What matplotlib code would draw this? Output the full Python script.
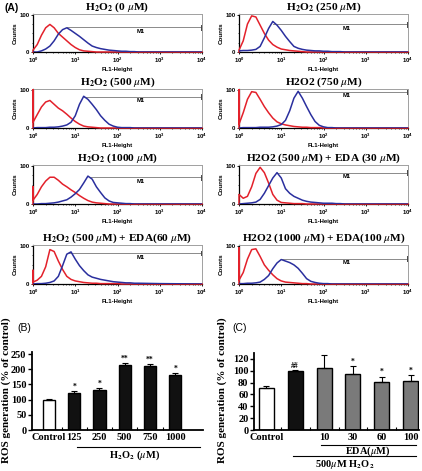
import matplotlib.pyplot as plt
import numpy as np

plt.rcParams['mathtext.fontset'] = 'stix'
plt.rcParams['font.family'] = ['Liberation Serif', 'DejaVu Serif']

W, H = 422, 471

# ---- (A) flow cytometry histograms ----
# FL1 channel positions in log10 units
fl1_log = [0.0, 0.1, 0.2, 0.3, 0.4, 0.5, 0.6, 0.7, 0.8, 0.9, 1.0, 1.1, 1.2, 1.3,
           1.4, 1.5, 1.6, 1.7, 1.8, 1.9, 2.0, 2.1, 2.2, 2.3, 2.4, 2.5, 3.0, 4.0]

hist_titles = [
    r'H$_\mathbf{2}$O$_\mathbf{2}$ (0 $\mu$M)',
    r'H$_\mathbf{2}$O$_\mathbf{2}$ (250 $\mu$M)',
    r'H$_\mathbf{2}$O$_\mathbf{2}$ (500 $\mu$M)',
    r'H2O2 (750 $\mu$M)',
    r'H$_\mathbf{2}$O$_\mathbf{2}$ (1000 $\mu$M)',
    r'H2O2 (500 $\mu$M) + EDA (30 $\mu$M)',
    r'H$_\mathbf{2}$O$_\mathbf{2}$ (500 $\mu$M) + EDA(60 $\mu$M)',
    r'H2O2 (1000 $\mu$M) + EDA(100 $\mu$M)',
]

# counts piled up in the first channel (red, unstained)
red_first = [0, 0, 100, 100, 45, 25, 36, 95]

red_0 = [5, 20, 45, 65, 74, 65, 50, 40, 30, 20, 12, 6, 3, 2, 1, 0, 0, 0, 0, 0, 0, 0, 0, 0, 0, 0, 0, 0]
red_1 = [5, 30, 75, 97, 94, 72, 50, 32, 20, 13, 8, 6, 4, 3, 2, 1, 0, 0, 0, 0, 0, 0, 0, 0, 0, 0, 0, 0]
red_2 = [15, 35, 55, 68, 72, 62, 52, 45, 36, 26, 17, 10, 5, 3, 2, 1, 0, 0, 0, 0, 0, 0, 0, 0, 0, 0, 0, 0]
red_3 = [10, 40, 75, 95, 93, 75, 56, 40, 26, 16, 11, 8, 6, 4, 3, 2, 2, 1, 1, 1, 0, 0, 0, 0, 0, 0, 0, 0]
red_4 = [10, 25, 45, 60, 70, 70, 62, 52, 45, 37, 30, 22, 15, 9, 5, 3, 2, 1, 0, 0, 0, 0, 0, 0, 0, 0, 0, 0]
red_5 = [25, 15, 20, 45, 80, 96, 82, 55, 25, 10, 4, 3, 2, 1, 1, 1, 0, 0, 0, 0, 0, 0, 0, 0, 0, 0, 0, 0]
red_6 = [5, 10, 20, 45, 90, 85, 60, 38, 20, 12, 8, 6, 4, 3, 2, 2, 1, 1, 1, 1, 1, 0, 0, 0, 0, 0, 0, 0]
red_7 = [10, 30, 65, 90, 92, 72, 50, 36, 24, 14, 8, 5, 4, 3, 2, 1, 1, 0, 0, 0, 0, 0, 0, 0, 0, 0, 0, 0]

blue_0 = [0, 0, 3, 8, 16, 30, 48, 60, 65, 58, 50, 42, 33, 24, 16, 12, 9, 7, 5, 4, 3, 2, 2, 1, 1, 0, 0, 0]
blue_1 = [3, 4, 4, 5, 7, 15, 38, 63, 82, 72, 58, 42, 28, 15, 10, 7, 5, 4, 3, 3, 2, 2, 1, 1, 1, 0, 0, 0]
blue_2 = [0, 1, 1, 1, 2, 2, 3, 5, 8, 15, 32, 62, 83, 75, 62, 48, 32, 20, 10, 5, 2, 1, 1, 1, 0, 0, 0, 0]
blue_3 = [0, 1, 1, 1, 1, 2, 2, 2, 3, 5, 9, 20, 45, 78, 96, 78, 56, 35, 17, 7, 3, 1, 1, 0, 0, 0, 0, 0]
blue_4 = [0, 0, 1, 1, 2, 3, 5, 8, 11, 18, 27, 38, 55, 73, 65, 45, 30, 16, 8, 4, 3, 2, 1, 1, 0, 0, 0, 0]
blue_5 = [0, 1, 2, 3, 5, 12, 28, 48, 68, 82, 68, 40, 28, 20, 15, 10, 7, 5, 4, 3, 2, 2, 2, 1, 1, 0, 0, 0]
blue_6 = [0, 1, 1, 2, 4, 8, 20, 48, 78, 84, 65, 48, 35, 24, 18, 15, 12, 10, 8, 6, 5, 4, 3, 3, 2, 2, 1, 0]
blue_7 = [1, 1, 2, 2, 3, 5, 12, 22, 40, 55, 64, 60, 56, 50, 41, 28, 14, 7, 4, 2, 1, 1, 0, 0, 0, 0, 0, 0]

# M1 gate: level (counts) and start channel (log10)
m1_level = [66, 74, 82, 95, 70, 82, 81, 66]
m1_start = [0.8, 0.8, 1.2, 1.38, 1.35, 0.9, 0.85, 1.0]

# ---- (B) ----
b_labels = ['Control', '125', '250', '500', '750', '1000']
b_values = [100, 122, 133, 213, 210, 182]
b_err = [3, 6, 6, 8, 8, 6]
b_marks = ['', '*', '*', '**', '**', '*']

# ---- (C) ----
c_labels = ['Control', '', '10', '30', '60', '100']
c_values = [71, 100, 104, 94, 81, 83]
c_err = [4, 1, 22, 14, 9, 10]
c_marks = ['', '##', '', '*', '*', '*']

red_curves = [red_0, red_1, red_2, red_3, red_4, red_5, red_6, red_7]
blue_curves = [blue_0, blue_1, blue_2, blue_3, blue_4, blue_5, blue_6, blue_7]

fig = plt.figure(figsize=(W / 100, H / 100), dpi=100)


def px_axes(l, t, r, b):
    return fig.add_axes([l / W, 1 - b / H, (r - l) / W, (b - t) / H])


sans = ['Liberation Sans', 'DejaVu Sans']
col_lr = [(33, 202), (239, 408)]
row_tb = [(14, 52), (89, 128), (165, 204), (245, 284)]
fl1 = 10 ** np.array(fl1_log)

for i in range(8):
    l, r = col_lr[i % 2]
    t, b = row_tb[i // 2]
    ax = px_axes(l, t, r, b)
    ax.plot(np.r_[1, 1, fl1], np.r_[0, red_first[i], red_curves[i]],
            color='#e3212b', lw=1.1, zorder=3, clip_on=False)
    ax.plot(fl1, blue_curves[i], color='#2a2f9e', lw=1.1, zorder=3)
    # M1 marker
    ax.plot([10 ** m1_start[i], 1e4], [m1_level[i], m1_level[i]], color='#8a8a8a', lw=0.7)
    ax.plot([9.5e3, 9.5e3], [m1_level[i] - 6, m1_level[i] + 6], color='#444444', lw=0.7)
    ax.text(10 ** 2.55, m1_level[i] - 4, 'M1', fontsize=4.2, fontweight='bold',
            family=sans, ha='center', va='top')
    ax.set_xscale('log')
    ax.set_xlim(1, 1e4)
    ax.set_ylim(0, 102)
    ax.set_yticks([0, 100])
    ax.set_yticks([25, 50, 75], minor=True)
    ax.tick_params(labelsize=4.3, length=1.5, width=0.6, pad=1)
    ax.tick_params(which='minor', length=1, width=0.5)
    for lab in ax.get_xticklabels() + ax.get_yticklabels():
        lab.set_family(sans)
        lab.set_fontweight('bold')
    for s in ['top', 'right']:
        ax.spines[s].set_color('#a0a0a0')
        ax.spines[s].set_linewidth(0.7)
    for s in ['left', 'bottom']:
        ax.spines[s].set_linewidth(0.9)
    ax.set_ylabel('Counts', fontsize=4.5, family=sans, fontweight='bold', labelpad=1)
    ax.set_xlabel('FL1-Height', fontsize=4.3, family=sans, fontweight='bold', labelpad=1.5)
    ax.set_title(hist_titles[i], fontsize=8.2, fontweight='bold', pad=0.8)

fig.text(12 / W, 1 - 8 / H, '(A)', fontsize=7.5, family=sans, fontweight='bold',
         ha='center', va='center')


def bar_panel(ax, labels, values, err, marks, colors, width):
    x = np.arange(len(values))
    ax.bar(x, values, width=width, color=colors, edgecolor='black', lw=1.0, zorder=2)
    ax.errorbar(x, values, yerr=[np.zeros(len(err)), err], fmt='none',
                ecolor='black', elinewidth=0.8, capsize=2, capthick=0.8, zorder=3)
    for xi, v, e, m in zip(x, values, err, marks):
        if m:
            ax.text(xi, v + e + 1, m, ha='center', va='bottom', fontsize=5.5,
                    fontweight='bold')
    ax.set_xticks(x)
    ax.set_xticklabels(labels)
    ax.set_xticks(x[:-1] + 0.5, minor=True)
    ax.tick_params(axis='x', which='major', length=0, pad=2)
    ax.tick_params(axis='x', which='minor', direction='in', length=2, width=0.8)
    ax.tick_params(axis='y', length=3, width=1.0, pad=1)
    ax.tick_params(labelsize=7.5)
    for lab in ax.get_xticklabels() + ax.get_yticklabels():
        lab.set_fontweight('bold')
    for s in ['top', 'right']:
        ax.spines[s].set_visible(False)
    for s in ['left', 'bottom']:
        ax.spines[s].set_linewidth(1.3)
    return x


# (B)
axb = px_axes(32, 352, 203, 430)
bar_panel(axb, b_labels, b_values, b_err, b_marks, ['white'] + ['#111111'] * 5, 0.48)
axb.set_xlim(-0.67, 6.1)
axb.set_ylim(0, 257)
axb.set_yticks([0, 50, 100, 150, 200, 250])
tb = axb.get_xaxis_transform()
axb.plot([1.1, 6.0], [-0.218, -0.218], color='black', lw=0.8, transform=tb, clip_on=False)
axb.text(3.4, -0.32, r'H$_\mathbf{2}$O$_\mathbf{2}$ ($\mu$M)', transform=tb,
         ha='center', va='center', fontsize=7.5, fontweight='bold')

# (C)
axc = px_axes(254, 353, 419, 430)
bar_panel(axc, c_labels, c_values, c_err, c_marks,
          ['white', '#111111'] + ['#7a7a7a'] * 4, 0.52)
axc.set_xlim(-0.43, 5.29)
axc.set_ylim(0, 130)
axc.set_yticks([0, 20, 40, 60, 80, 100, 120])
tc = axc.get_xaxis_transform()
axc.plot([1.9, 5.17], [-0.195, -0.195], color='black', lw=0.8, transform=tc, clip_on=False)
axc.text(3.5, -0.27, r'EDA($\mu$M)', transform=tc, ha='center', va='center',
         fontsize=7.5, fontweight='bold')
axc.plot([0.92, 5.17], [-0.34, -0.34], color='black', lw=0.8, transform=tc, clip_on=False)
axc.text(2.7, -0.45, r'500$\mu$M H$_\mathbf{2}$O$_\mathbf{2}$', transform=tc,
         ha='center', va='center', fontsize=7.5, fontweight='bold')

for xp in (6.5, 222):
    fig.text(xp / W, 1 - 390 / H, 'ROS generation (% of control)', rotation=90,
             ha='center', va='center', fontsize=8, fontweight='bold')
fig.text(24 / W, 1 - 328 / H, '(B)', fontsize=7.5, family=sans, ha='center', va='center')
fig.text(240 / W, 1 - 328 / H, '(C)', fontsize=7.5, family=sans, ha='center', va='center')

fig.savefig('out.png', dpi=100)
